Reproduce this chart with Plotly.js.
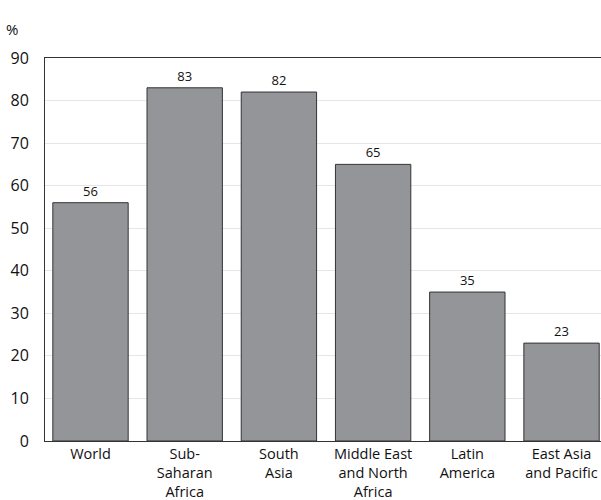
<!DOCTYPE html>
<html><head><meta charset="utf-8">
<script src="https://cdn.plot.ly/plotly-3.0.1.min.js"></script>
<style>body{margin:0;background:#fff}#c{width:601px;height:500px}</style>
</head><body><div id="c"></div>
<script>
const categories = ["World", "Sub-<br>Saharan<br>Africa", "South<br>Asia", "Middle East<br>and North<br>Africa", "Latin<br>America", "East Asia<br>and Pacific"];
const values = [56, 83, 82, 65, 35, 23];
const yTicks = [0, 10, 20, 30, 40, 50, 60, 70, 80, 90];

const fontFam = "'Open Sans', Lato, sans-serif";
Plotly.newPlot('c', [{
  type: 'bar',
  x: categories.map((c, i) => i),
  y: values,
  width: 0.8,
  text: values.map(String),
  textposition: 'outside',
  textfont: {family: fontFam, size: 13, color: '#111'},
  cliponaxis: false,
  marker: {color: '#939598', line: {color: '#333', width: 1}},
  hoverinfo: 'none'
}], {
  width: 601, height: 500,
  margin: {l: 45, r: 0, t: 58, b: 59},
  paper_bgcolor: '#fff', plot_bgcolor: '#fff',
  showlegend: false,
  font: {family: fontFam, color: '#111'},
  xaxis: {
    range: [-0.483, 5.419],
    tickmode: 'array', tickvals: categories.map((c, i) => i), ticktext: categories,
    tickfont: {size: 14.5, family: fontFam, color: '#111'},
    showline: true, linecolor: '#333', linewidth: 1, mirror: true,
    showgrid: false, zeroline: false, ticks: '', fixedrange: true,
    ticklabelstandoff: 0
  },
  yaxis: {
    range: [0, 90],
    tickmode: 'array', tickvals: yTicks,
    tickfont: {size: 16, family: fontFam, color: '#111'},
    showline: true, linecolor: '#333', linewidth: 1, mirror: true,
    showgrid: true, gridcolor: '#e6e6e6', gridwidth: 1,
    zeroline: false, ticks: '', fixedrange: true,
    ticklabelstandoff: 12
  },
  annotations: [{
    text: '%', xref: 'paper', yref: 'paper', x: -0.06, y: 1.075,
    xanchor: 'center', yanchor: 'middle', showarrow: false,
    font: {size: 15, family: fontFam, color: '#111'}
  }]
}, {displayModeBar: false, staticPlot: true});
</script></body></html>
